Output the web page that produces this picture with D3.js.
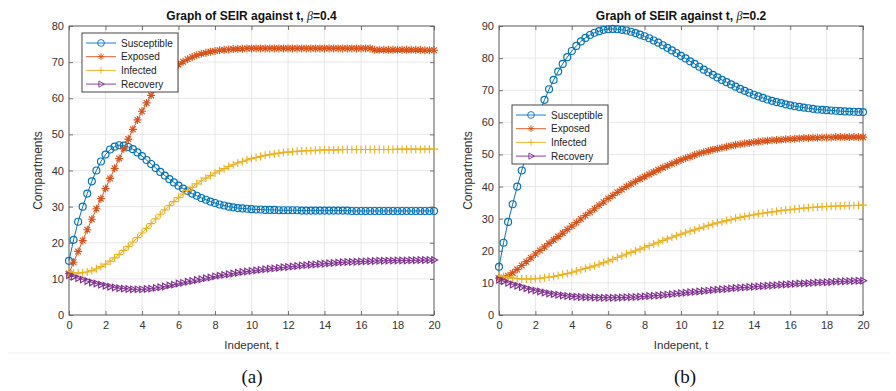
<!DOCTYPE html>
<html>
<head>
<meta charset="utf-8">
<script src="https://cdn.jsdelivr.net/npm/d3@7"></script>
<style>
  body { margin: 0; background: #fff; }
  svg { display: block; font-family: "Liberation Sans", Arial, sans-serif; }
</style>
</head>
<body>
<svg id="chart" width="896" height="391"></svg>
<script>
// time grid shared by every series
const tValues = [
  0, 0.25, 0.5, 0.75, 1, 1.25, 1.5, 1.75, 2, 2.25,
  2.5, 2.75, 3, 3.25, 3.5, 3.75, 4, 4.25, 4.5, 4.75,
  5, 5.25, 5.5, 5.75, 6, 6.25, 6.5, 6.75, 7, 7.25,
  7.5, 7.75, 8, 8.25, 8.5, 8.75, 9, 9.25, 9.5, 9.75,
  10, 10.25, 10.5, 10.75, 11, 11.25, 11.5, 11.75, 12, 12.25,
  12.5, 12.75, 13, 13.25, 13.5, 13.75, 14, 14.25, 14.5, 14.75,
  15, 15.25, 15.5, 15.75, 16, 16.25, 16.5, 16.75, 17, 17.25,
  17.5, 17.75, 18, 18.25, 18.5, 18.75, 19, 19.25, 19.5, 19.75,
  20
]

const seriesNames = ['Susceptible', 'Exposed', 'Infected', 'Recovery']

// panel (a), beta = 0.4
const susceptibleA = [
  15, 20.8, 25.8, 30, 33.6, 37, 40, 42.5, 44.4, 45.8,
  46.6, 47, 46.9, 46.5, 45.9, 45, 44, 42.9, 41.8, 40.7,
  39.6, 38.6, 37.6, 36.7, 35.8, 35, 34.3, 33.6, 33, 32.4,
  31.9, 31.4, 31, 30.6, 30.3, 30, 29.8, 29.6, 29.5, 29.4,
  29.3, 29.2, 29.2, 29.1, 29.1, 29.1, 29, 29, 29, 29,
  29, 28.9, 28.9, 28.9, 28.9, 28.9, 28.9, 28.9, 28.9, 28.9,
  28.9, 28.9, 28.8, 28.8, 28.8, 28.8, 28.8, 28.8, 28.8, 28.8,
  28.8, 28.8, 28.8, 28.8, 28.8, 28.8, 28.8, 28.8, 28.8, 28.8,
  28.8
]
const exposedA = [
  11.5, 14.6, 17.6, 20.6, 23.6, 26.5, 29.4, 32.2, 35, 37.8,
  40.6, 43.3, 46, 48.7, 51.4, 54, 56.4, 58.7, 60.8, 62.7,
  64.4, 65.9, 67.2, 68.3, 69.3, 70.1, 70.8, 71.4, 71.9, 72.3,
  72.6, 72.9, 73.1, 73.3, 73.4, 73.5, 73.6, 73.7, 73.7, 73.8,
  73.8, 73.8, 73.8, 73.8, 73.8, 73.8, 73.8, 73.8, 73.8, 73.8,
  73.8, 73.8, 73.8, 73.8, 73.8, 73.8, 73.8, 73.8, 73.8, 73.8,
  73.8, 73.8, 73.8, 73.8, 73.8, 73.8, 73.8, 73.4, 73.4, 73.4,
  73.4, 73.4, 73.4, 73.4, 73.4, 73.4, 73.4, 73.4, 73.3, 73.3,
  73.3
]
const infectedA = [
  12, 11.7, 11.6, 11.7, 11.9, 12.3, 12.8, 13.4, 14.1, 14.9,
  15.8, 16.8, 17.9, 19, 20.2, 21.4, 22.7, 24, 25.3, 26.6,
  27.9, 29.1, 30.3, 31.4, 32.5, 33.5, 34.5, 35.4, 36.3, 37.1,
  37.9, 38.6, 39.3, 39.9, 40.5, 41.1, 41.6, 42.1, 42.5, 42.9,
  43.3, 43.6, 43.9, 44.2, 44.4, 44.6, 44.8, 45, 45.1, 45.2,
  45.3, 45.4, 45.5, 45.5, 45.6, 45.6, 45.7, 45.7, 45.7, 45.7,
  45.8, 45.8, 45.8, 45.8, 45.8, 45.8, 45.8, 45.8, 45.8, 45.8,
  45.8, 45.8, 45.9, 45.9, 45.9, 45.9, 45.9, 45.9, 45.9, 45.9,
  45.9
]
const recoveryA = [
  11, 10.6, 10.2, 9.8, 9.4, 9, 8.7, 8.4, 8.1, 7.8,
  7.6, 7.4, 7.3, 7.2, 7.1, 7.1, 7.1, 7.2, 7.3, 7.5,
  7.7, 7.9, 8.2, 8.4, 8.7, 8.9, 9.2, 9.4, 9.7, 9.9,
  10.2, 10.4, 10.7, 10.9, 11.1, 11.3, 11.5, 11.7, 11.9, 12.05,
  12.2, 12.35, 12.5, 12.65, 12.8, 12.9, 13.05, 13.2, 13.3, 13.45,
  13.55, 13.7, 13.8, 13.9, 14, 14.1, 14.2, 14.3, 14.4, 14.5,
  14.6, 14.65, 14.7, 14.75, 14.8, 14.85, 14.9, 14.95, 15, 15,
  15.05, 15.05, 15.1, 15.1, 15.1, 15.15, 15.15, 15.2, 15.2, 15.2,
  15.2
]

// panel (b), beta = 0.2
const susceptibleB = [
  15, 22.5, 29, 34.5, 40, 45, 50, 55, 59.5, 63.5,
  67, 70.3, 73.2, 75.8, 78.2, 80.3, 82.2, 83.8, 85.2, 86.3,
  87.2, 87.9, 88.4, 88.8, 89, 89.1, 89, 88.8, 88.6, 88.2,
  87.8, 87.3, 86.8, 86.2, 85.5, 84.8, 84, 83.2, 82.4, 81.6,
  80.7, 79.9, 79, 78.2, 77.3, 76.4, 75.6, 74.8, 74, 73.2,
  72.5, 71.8, 71.1, 70.4, 69.8, 69.2, 68.6, 68.1, 67.6, 67.1,
  66.7, 66.3, 66, 65.6, 65.3, 65, 64.8, 64.6, 64.4, 64.2,
  64, 63.9, 63.8, 63.7, 63.6, 63.5, 63.4, 63.35, 63.3, 63.25,
  63.2
]
const exposedB = [
  11.5, 11.7, 12.2, 13.1, 14.2, 15.4, 16.6, 17.8, 19, 20.1,
  21.2, 22.3, 23.4, 24.4, 25.5, 26.6, 27.7, 28.8, 29.9, 31,
  32, 33.1, 34.2, 35.2, 36.3, 37.2, 38.2, 39.1, 40, 40.8,
  41.6, 42.4, 43.1, 43.8, 44.5, 45.2, 45.9, 46.5, 47.1, 47.7,
  48.3, 48.8, 49.3, 49.8, 50.3, 50.7, 51.1, 51.5, 51.8, 52.1,
  52.4, 52.7, 53, 53.2, 53.4, 53.6, 53.8, 54, 54.1, 54.3,
  54.4, 54.5, 54.6, 54.7, 54.8, 54.9, 55, 55.1, 55.1, 55.2,
  55.2, 55.3, 55.3, 55.3, 55.4, 55.4, 55.4, 55.4, 55.4, 55.4,
  55.4
]
const infectedB = [
  12.3, 12, 11.7, 11.5, 11.3, 11.2, 11.2, 11.2, 11.3, 11.4,
  11.6, 11.8, 12, 12.3, 12.6, 12.9, 13.3, 13.7, 14.1, 14.5,
  14.9, 15.3, 15.8, 16.3, 16.8, 17.3, 17.9, 18.4, 19, 19.5,
  20, 20.5, 21.1, 21.6, 22.1, 22.6, 23.2, 23.7, 24.2, 24.7,
  25.2, 25.6, 26.1, 26.5, 27, 27.4, 27.9, 28.3, 28.7, 29,
  29.4, 29.7, 30.1, 30.4, 30.7, 30.9, 31.2, 31.5, 31.7, 31.9,
  32.1, 32.3, 32.5, 32.7, 32.8, 33, 33.1, 33.3, 33.4, 33.5,
  33.6, 33.7, 33.8, 33.85, 33.9, 33.95, 34, 34.05, 34.1, 34.15,
  34.2
]
const recoveryB = [
  11, 10.5, 10, 9.5, 9.1, 8.7, 8.3, 7.9, 7.6, 7.3,
  7, 6.7, 6.5, 6.3, 6.1, 5.9, 5.8, 5.7, 5.6, 5.55,
  5.5, 5.45, 5.4, 5.4, 5.4, 5.4, 5.4, 5.45, 5.5, 5.55,
  5.6, 5.7, 5.8, 5.9, 6, 6.1, 6.2, 6.35, 6.5, 6.65,
  6.8, 6.95, 7.1, 7.2, 7.3, 7.45, 7.6, 7.75, 7.9, 8,
  8.1, 8.25, 8.4, 8.5, 8.6, 8.7, 8.8, 8.9, 9, 9.1,
  9.2, 9.3, 9.4, 9.5, 9.6, 9.7, 9.8, 9.85, 9.9, 10,
  10.1, 10.15, 10.2, 10.3, 10.4, 10.45, 10.5, 10.55, 10.6, 10.65,
  10.7
]

const xTicks = [0, 2, 4, 6, 8, 10, 12, 14, 16, 18, 20]
const yTicksA = [0, 10, 20, 30, 40, 50, 60, 70, 80]
const yTicksB = [0, 10, 20, 30, 40, 50, 60, 70, 80, 90]

// matlab default colour order
const colors = ['#0072bd', '#d95319', '#edb120', '#7e2f8e']

// marker shapes, drawn around (0,0)
const markers = [
  r => `M${r},0A${r},${r} 0 1,1 ${-r},0A${r},${r} 0 1,1 ${r},0Z`,
  r => { const k = r * 0.72; return `M${-r},0H${r}M0,${-r}V${r}M${-k},${-k}L${k},${k}M${-k},${k}L${k},${-k}` },
  r => `M${-r},0H${r}M0,${-r}V${r}`,
  r => `M${r},0L${-r * 0.62},${-r * 0.9}L${-r * 0.62},${r * 0.9}Z`
]
const markerSize = [3.5, 4, 4, 3.6]

const svg = d3.select('#chart')

svg.append('line')
    .attr('x1', 8).attr('x2', 890).attr('y1', 353).attr('y2', 353)
    .attr('stroke', '#efefef')

const panels = [
  {
    left: 69, right: 434, top: 26, bottom: 315,
    yMax: 80, yTicks: yTicksA, beta: '0.4', caption: '(a)', captionX: 252,
    legendX: 82, legendY: 33,
    series: [susceptibleA, exposedA, infectedA, recoveryA]
  },
  {
    left: 499, right: 863, top: 26, bottom: 315,
    yMax: 90, yTicks: yTicksB, beta: '0.2', caption: '(b)', captionX: 685,
    legendX: 512, legendY: 105,
    series: [susceptibleB, exposedB, infectedB, recoveryB]
  }
]

panels.forEach(p => drawPanel(p))

function styleAxis(g) {
    g.select('.domain').remove()
    g.selectAll('line').attr('stroke', '#555').attr('stroke-width', 0.8)
    g.selectAll('text')
        .attr('fill', '#333')
        .style('font-family', '"Liberation Sans", Arial, sans-serif')
        .style('font-size', '11px')
}

function drawPanel(p) {
    const x = d3.scaleLinear().domain([0, 20]).range([p.left, p.right])
    const y = d3.scaleLinear().domain([0, p.yMax]).range([p.bottom, p.top])
    const g = svg.append('g')

    // grid
    g.append('g').selectAll('line').data(xTicks).enter().append('line')
        .attr('x1', d => x(d)).attr('x2', d => x(d))
        .attr('y1', p.top).attr('y2', p.bottom)
        .attr('stroke', '#e2e2e2').attr('stroke-width', 0.8)
    g.append('g').selectAll('line').data(p.yTicks).enter().append('line')
        .attr('x1', p.left).attr('x2', p.right)
        .attr('y1', d => y(d)).attr('y2', d => y(d))
        .attr('stroke', '#e2e2e2').attr('stroke-width', 0.8)

    // axes, ticks pointing inward on all four sides
    g.append('g').attr('transform', `translate(0,${p.bottom})`)
        .call(d3.axisBottom(x).tickValues(xTicks).tickSizeInner(-4).tickSizeOuter(0).tickPadding(6))
        .call(styleAxis)
    g.append('g').attr('transform', `translate(${p.left},0)`)
        .call(d3.axisLeft(y).tickValues(p.yTicks).tickSizeInner(-4).tickSizeOuter(0).tickPadding(5))
        .call(styleAxis)
    g.append('g').attr('transform', `translate(0,${p.top})`)
        .call(d3.axisTop(x).tickValues(xTicks).tickFormat('').tickSizeInner(-4).tickSizeOuter(0))
        .call(styleAxis)
    g.append('g').attr('transform', `translate(${p.right},0)`)
        .call(d3.axisRight(y).tickValues(p.yTicks).tickFormat('').tickSizeInner(-4).tickSizeOuter(0))
        .call(styleAxis)

    g.append('rect')
        .attr('x', p.left).attr('y', p.top)
        .attr('width', p.right - p.left).attr('height', p.bottom - p.top)
        .attr('fill', 'none').attr('stroke', '#555').attr('stroke-width', 0.9)

    // series: thin line plus a marker at every point
    const line = d3.line().x((d, i) => x(tValues[i])).y(d => y(d))
    p.series.forEach((vals, k) => {
        const s = g.append('g')
        s.append('path').attr('d', line(vals))
            .attr('fill', 'none').attr('stroke', colors[k]).attr('stroke-width', 1)
        s.selectAll('path.mk').data(vals).enter().append('path')
            .attr('class', 'mk')
            .attr('transform', (d, i) => `translate(${x(tValues[i])},${y(d)})`)
            .attr('d', markers[k](markerSize[k]))
            .attr('fill', 'none').attr('stroke', colors[k]).attr('stroke-width', 1.15)
    })

    // title
    const cx = (p.left + p.right) / 2
    const title = g.append('text')
        .attr('x', cx).attr('y', 19.5)
        .attr('text-anchor', 'middle')
        .attr('font-size', 12).attr('font-weight', 'bold').attr('fill', '#111')
    title.append('tspan').text('Graph of SEIR against t, ')
    title.append('tspan').text('β')
        .attr('font-family', '"Liberation Serif", serif').attr('font-style', 'italic').attr('font-weight', 'normal')
    title.append('tspan').text('=' + p.beta)

    // axis labels
    g.append('text')
        .attr('x', cx).attr('y', 349)
        .attr('text-anchor', 'middle').attr('font-size', 11.5).attr('fill', '#333')
        .text('Indepent, t')
    g.append('text')
        .attr('transform', `translate(${p.left - 27},${(p.top + p.bottom) / 2}) rotate(-90)`)
        .attr('text-anchor', 'middle').attr('font-size', 12).attr('fill', '#333')
        .text('Compartments')

    // caption
    g.append('text')
        .attr('x', p.captionX).attr('y', 383)
        .attr('text-anchor', 'middle')
        .attr('font-family', '"Liberation Serif", "Times New Roman", serif')
        .attr('font-size', 19).attr('fill', '#111')
        .text(p.caption)

    // legend
    const lg = g.append('g').attr('transform', `translate(${p.legendX},${p.legendY})`)
    lg.append('rect')
        .attr('width', 96).attr('height', 59)
        .attr('fill', '#fff').attr('stroke', '#333').attr('stroke-width', 0.9)
    seriesNames.forEach((name, k) => {
        const ly = 10 + k * 13.7
        lg.append('line')
            .attr('x1', 4).attr('x2', 34).attr('y1', ly).attr('y2', ly)
            .attr('stroke', colors[k]).attr('stroke-width', 0.9)
        lg.append('path')
            .attr('transform', `translate(19,${ly})`)
            .attr('d', markers[k](3.4))
            .attr('fill', 'none').attr('stroke', colors[k]).attr('stroke-width', 0.9)
        lg.append('text')
            .attr('x', 39).attr('y', ly).attr('dy', '0.35em')
            .attr('font-size', 10).attr('fill', '#222')
            .text(name)
    })
}
</script>
</body>
</html>
